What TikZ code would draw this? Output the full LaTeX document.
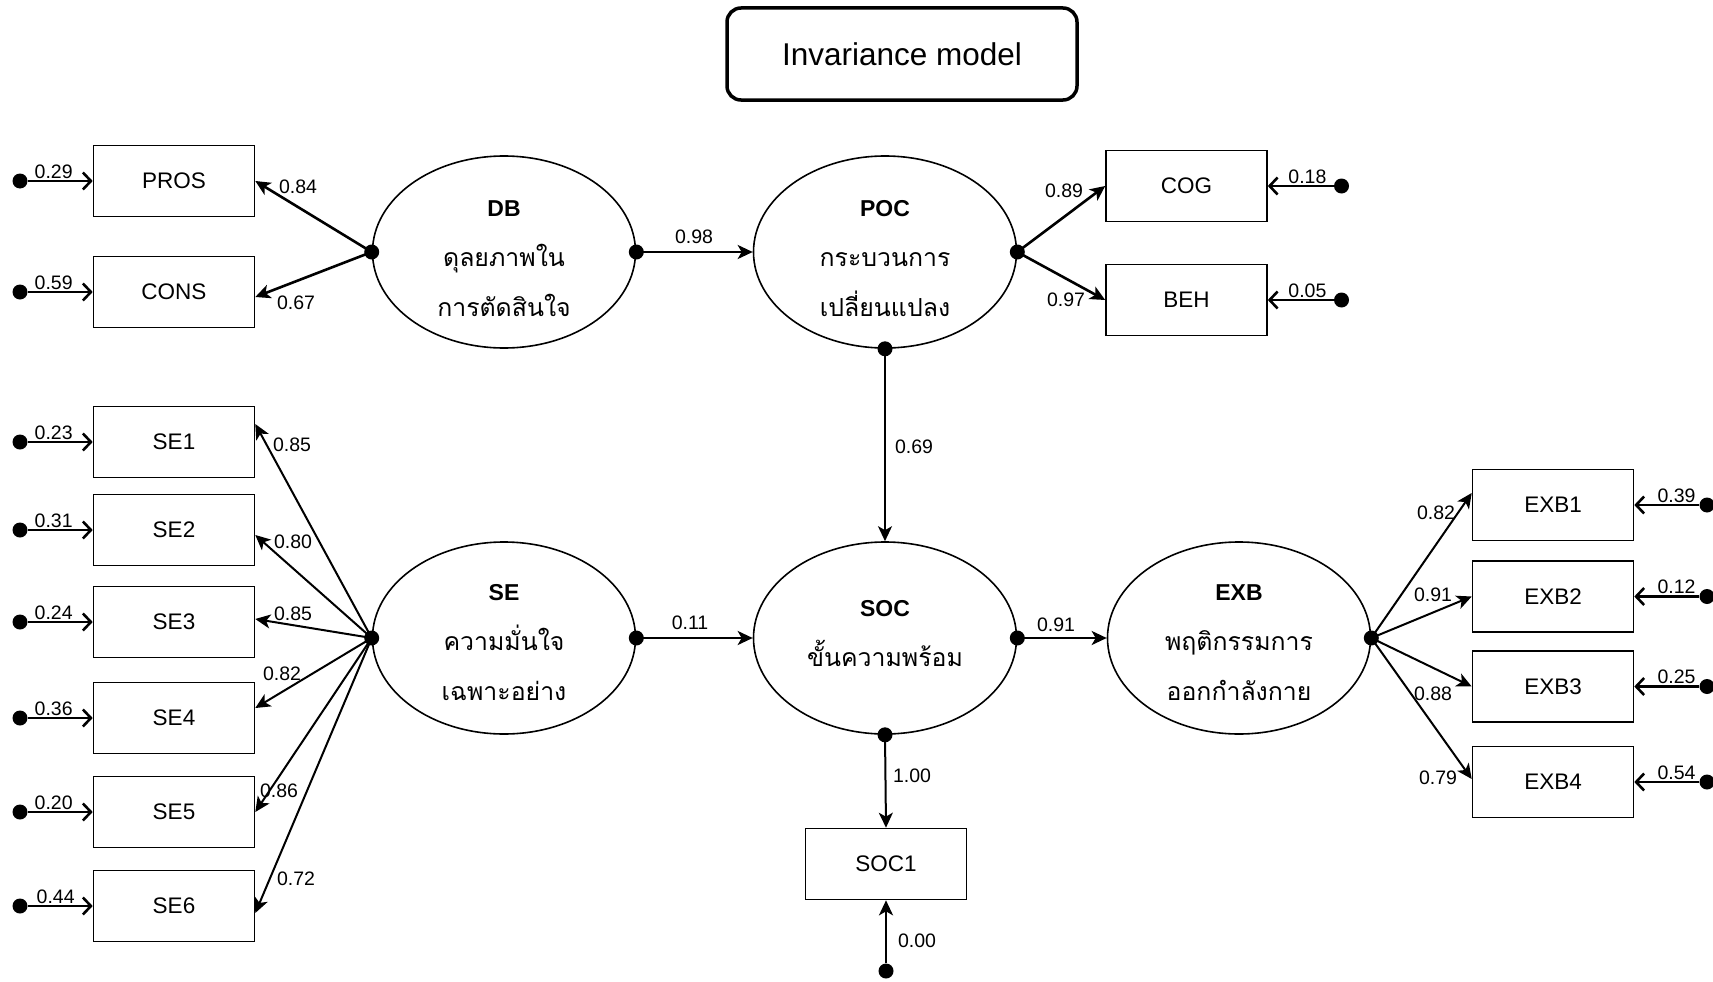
\documentclass[tikz,border=0pt]{standalone}
\usepackage{fontspec}
\setmainfont{Liberation Sans}
\newfontfamily\thaifont[Script=Thai,Scale=1.08]{Loma}
\usetikzlibrary{shapes.geometric,arrows.meta}
\begin{document}
\begin{tikzpicture}[x=1pt,y=-1pt,
  obs/.style={draw, line width=1.6pt, minimum width=161pt, minimum height=71pt, inner sep=0pt, font=\fontsize{22.5}{27}\selectfont},
  lat/.style={draw, ellipse, line width=1.6pt, minimum width=263pt, minimum height=192pt, inner sep=0pt, align=center, font=\fontsize{23}{50}\selectfont},
  edot/.style={circle, fill, inner sep=0pt, minimum size=15pt},
  lbl/.style={font=\fontsize{19.5}{22}\selectfont, inner sep=1.5pt},
  pth/.style={line width=2pt, -{Stealth[length=15pt,width=14pt,inset=4pt]}},
  pthk/.style={line width=2.6pt, -{Stealth[length=15pt,width=14pt,inset=4pt]}},
  err/.style={line width=2.6pt, -{Straight Barb[length=8pt,width=17pt,line width=2.6pt]}}
]
\fill[white] (0,0) rectangle (1713,982);
\useasboundingbox (0,0) rectangle (1713,982);

% title
\node[draw, rounded corners=14pt, line width=3.5pt, minimum width=350pt, minimum height=92pt,
      font=\fontsize{31.5}{36}\selectfont] (title) at (902,54) {Invariance model};

% latent variables
\node[lat] (DB)  at (504,252) {\rule{0pt}{30pt}\textbf{DB}\\{\thaifont ดุลยภาพใน}\\{\thaifont การตัดสินใจ}};
\node[lat] (POC) at (885,252) {\rule{0pt}{30pt}\textbf{POC}\\{\thaifont กระบวนการ}\\{\thaifont เปลี่ยนแปลง}};
\node[lat] (SE)  at (504,638) {\rule{0pt}{26pt}\textbf{SE}\\{\thaifont ความมั่นใจ}\\{\thaifont เฉพาะอย่าง}};
\node[lat] (SOC) at (885,638) {\textbf{SOC}\\{\thaifont ขั้นความพร้อม}\rule[-9pt]{0pt}{0pt}};
\node[lat] (EXB) at (1239,638) {\rule{0pt}{26pt}\textbf{EXB}\\{\thaifont พฤติกรรมการ}\\{\thaifont ออกกำลังกาย}};

% observed variables
\node[obs] (PROS) at (174,181) {PROS};
\node[obs] (CONS) at (174,292) {CONS};
\node[obs] (COG)  at (1186.5,186) {COG};
\node[obs] (BEH)  at (1186.5,300) {BEH};
\node[obs] (SE1) at (174,442) {SE1};
\node[obs] (SE2) at (174,530) {SE2};
\node[obs] (SE3) at (174,622) {SE3};
\node[obs] (SE4) at (174,718) {SE4};
\node[obs] (SE5) at (174,812) {SE5};
\node[obs] (SE6) at (174,906) {SE6};
\node[obs] (EXB1) at (1553,505) {EXB1};
\node[obs] (EXB2) at (1553,596.5) {EXB2};
\node[obs] (EXB3) at (1553,686.5) {EXB3};
\node[obs] (EXB4) at (1553,782) {EXB4};
\node[obs] (SOC1) at (886,864) {SOC1};

% error dots
\node[edot] (ePROS) at (20,181) {};
\node[edot] (eCONS) at (20,292) {};
\node[edot] (eCOG) at (1341.5,186) {};
\node[edot] (eBEH) at (1341.5,300) {};
\node[edot] (eSE1) at (20,442) {};
\node[edot] (eSE2) at (20,530) {};
\node[edot] (eSE3) at (20,622) {};
\node[edot] (eSE4) at (20,718) {};
\node[edot] (eSE5) at (20,812) {};
\node[edot] (eSE6) at (20,906) {};
\node[edot] (eEXB1) at (1707,505) {};
\node[edot] (eEXB2) at (1707,596.5) {};
\node[edot] (eEXB3) at (1707,686.5) {};
\node[edot] (eEXB4) at (1707,782) {};
\node[edot] (eSOC1) at (886,971) {};

% error arrows
\draw[err] (ePROS) -- node[lbl, above, pos=0.4] {0.29} (PROS);
\draw[err] (eCONS) -- node[lbl, above, pos=0.4] {0.59} (CONS);
\draw[err] (eCOG) -- node[lbl, above, pos=0.4] {0.18} (COG);
\draw[err] (eBEH) -- node[lbl, above, pos=0.4] {0.05} (BEH);
\draw[err] (eSE1) -- node[lbl, above, pos=0.4] {0.23} (SE1);
\draw[err] (eSE2) -- node[lbl, above, pos=0.4] {0.31} (SE2);
\draw[err] (eSE3) -- node[lbl, above, pos=0.4] {0.24} (SE3);
\draw[err] (eSE4) -- node[lbl, above, pos=0.4] {0.36} (SE4);
\draw[err] (eSE5) -- node[lbl, above, pos=0.4] {0.20} (SE5);
\draw[err] (eSE6) -- node[lbl, above, pos=0.43] {0.44} (SE6);
\draw[err] (eEXB1) -- node[lbl, above, pos=0.35] {0.39} (EXB1);
\draw[err] (eEXB2) -- node[lbl, above, pos=0.35] {0.12} (EXB2);
\draw[err] (eEXB3) -- node[lbl, above, pos=0.35] {0.25} (EXB3);
\draw[err] (eEXB4) -- node[lbl, above, pos=0.35] {0.54} (EXB4);
\draw[pthk] (eSOC1) -- (SOC1);
\node[lbl] at (917,941) {0.00};

% loadings DB
\draw[pthk] (DB.west) -- (PROS.east);
\draw[pthk] (DB.west) -- ([yshift=-5pt]CONS.east);
\node[lbl] at (298,187) {0.84};
\node[lbl] at (296,303) {0.67};

% structural paths
\draw[pthk] (DB.east) -- (POC.west);
\node[lbl] at (694,237) {0.98};
\draw[pthk] (POC.east) -- (COG.west);
\draw[pthk] (POC.east) -- (BEH.west);
\node[lbl] at (1064,191) {0.89};
\node[lbl] at (1066,300) {0.97};
\draw[pth] (POC.south) -- (SOC.north);
\node[lbl] at (914,447) {0.69};
\draw[pthk] (SE.east) -- (SOC.west);
\node[lbl] at (690,623) {0.11};
\draw[pthk] (SOC.east) -- (EXB.west);
\node[lbl] at (1056,625) {0.91};
\draw[pth] (SOC.south) -- (SOC1.north);
\node[lbl] at (912,776) {1.00};

% SE loadings
\draw[pth] (SE.west) -- ([yshift=18pt]SE1.east);
\draw[pth] (SE.west) -- ([yshift=-5pt]SE2.east);
\draw[pth] (SE.west) -- ([yshift=3pt]SE3.east);
\draw[pth] (SE.west) -- ([yshift=10pt]SE4.east);
\draw[pth] (SE.west) -- (SE5.east);
\draw[pth] (SE.west) -- ([yshift=-7pt]SE6.east);
\node[lbl] at (292,445) {0.85};
\node[lbl] at (293,542) {0.80};
\node[lbl] at (293,614) {0.85};
\node[lbl] at (282,674) {0.82};
\node[lbl] at (279,791) {0.86};
\node[lbl] at (296,879) {0.72};

% EXB loadings
\draw[pth] (EXB.east) -- ([yshift=12pt]EXB1.west);
\draw[pth] (EXB.east) -- (EXB2.west);
\draw[pth] (EXB.east) -- (EXB3.west);
\draw[pth] (EXB.east) -- ([yshift=3pt]EXB4.west);
\node[lbl] at (1436,513) {0.82};
\node[lbl] at (1433,595) {0.91};
\node[lbl] at (1433,694) {0.88};
\node[lbl] at (1438,778) {0.79};

% dots on latent variables
\foreach \p in {DB.west,DB.east,POC.east,POC.south,SE.west,SE.east,SOC.east,SOC.south,EXB.east}
  \fill (\p) circle[radius=7.5pt];
\end{tikzpicture}
\end{document}
